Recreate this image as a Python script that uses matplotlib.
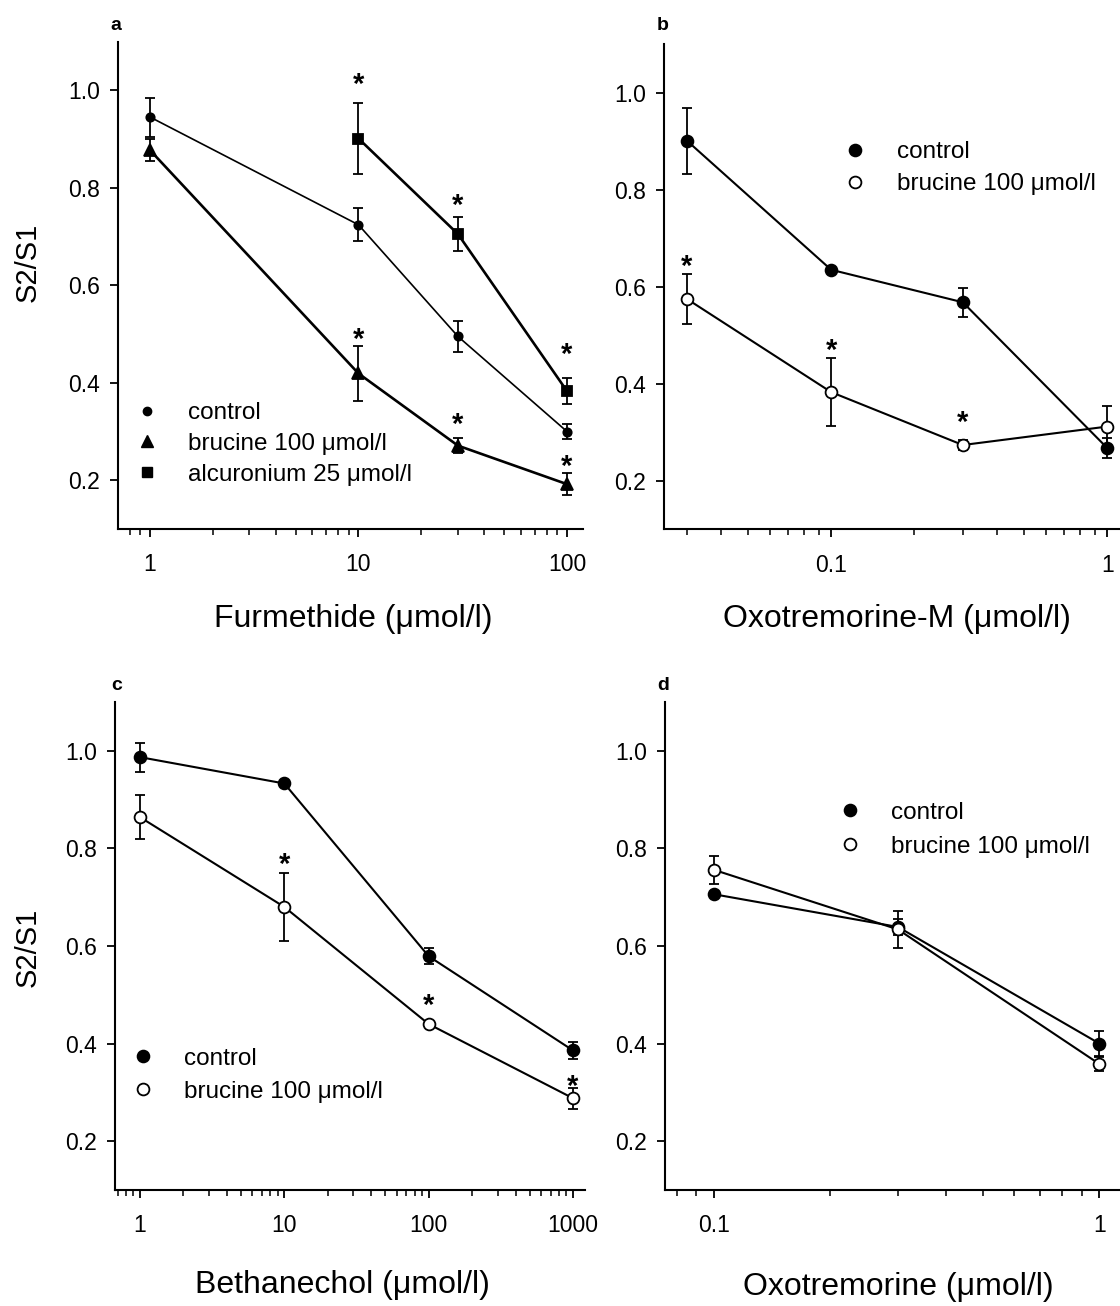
import matplotlib
matplotlib.use('Agg')
import matplotlib.pyplot as plt
from matplotlib.ticker import FixedLocator, FixedFormatter, LogLocator, NullFormatter
from matplotlib.lines import Line2D

plt.rcParams['font.family'] = ['Liberation Sans', 'DejaVu Sans']

# ---------------- data ----------------
# panel a: furmethide
a_x = [1, 10, 30, 100]
a_control = [0.945, 0.724, 0.495, 0.300]
a_control_err = [0.040, 0.034, 0.031, 0.015]
a_brucine = [0.877, 0.419, 0.271, 0.192]
a_brucine_err = [0.022, 0.057, 0.015, 0.022]
a_alc_x = [10, 30, 100]
a_alc = [0.901, 0.705, 0.383]
a_alc_err = [0.072, 0.034, 0.026]
a_sig_x = [10, 30, 100, 10, 30, 100]
a_sig_y = [1.03, 0.78, 0.475, 0.506, 0.332, 0.245]

# panel b: oxotremorine-M
b_x = [0.03, 0.1, 0.3, 1]
b_control = [0.901, 0.635, 0.568, 0.268]
b_control_err = [0.068, 0.0, 0.030, 0.020]
b_brucine = [0.575, 0.383, 0.274, 0.312]
b_brucine_err = [0.052, 0.070, 0.010, 0.042]
b_sig_x = [0.03, 0.1, 0.3]
b_sig_y = [0.66, 0.487, 0.337]

# panel c: bethanechol
c_x = [1, 10, 100, 1000]
c_control = [0.987, 0.933, 0.579, 0.386]
c_control_err = [0.030, 0.0, 0.016, 0.018]
c_brucine = [0.864, 0.680, 0.440, 0.288]
c_brucine_err = [0.045, 0.069, 0.006, 0.022]
c_sig_x = [10, 100, 1000]
c_sig_y = [0.784, 0.495, 0.330]

# panel d: oxotremorine
d_x = [0.1, 0.3, 1]
d_control = [0.706, 0.639, 0.400]
d_control_err = [0.0, 0.017, 0.026]
d_brucine = [0.756, 0.634, 0.358]
d_brucine_err = [0.028, 0.038, 0.015]

y_ticks = [0.2, 0.4, 0.6, 0.8, 1.0]
y_ticklabels = ['0.2', '0.4', '0.6', '0.8', '1.0']

# ---------------- figure ----------------
W, H = 1120, 1306
fig = plt.figure(figsize=(W / 100, H / 100), dpi=100)


def ax_at(l, t, r, b):
    return fig.add_axes([l / W, 1 - b / H, (r - l) / W, (b - t) / H])


axa = ax_at(118, 41.5, 583, 529)
axb = ax_at(664, 44, 1129, 529.5)
axc = ax_at(115, 702, 585, 1190)
axd = ax_at(665, 702, 1130, 1190)

TICK_FS = 16.5
LEG_FS = 17.5
LAB_FS = 23
STAR_FS = 21


def setup(ax, xlim, xt, xtl):
    ax.set_xscale('log')
    ax.set_xlim(*xlim)
    ax.set_ylim(0.1, 1.1)
    ax.xaxis.set_major_locator(FixedLocator(xt))
    ax.xaxis.set_major_formatter(FixedFormatter(xtl))
    ax.xaxis.set_minor_locator(LogLocator(base=10, subs=[2, 3, 4, 5, 6, 7, 8, 9], numticks=50))
    ax.xaxis.set_minor_formatter(NullFormatter())
    ax.yaxis.set_major_locator(FixedLocator(y_ticks))
    ax.yaxis.set_major_formatter(FixedFormatter(y_ticklabels))
    for s in ['top', 'right']:
        ax.spines[s].set_visible(False)
    for s in ['left', 'bottom']:
        ax.spines[s].set_linewidth(1.5)
    ax.tick_params(axis='both', which='major', direction='out', length=6, width=1.3,
                   labelsize=TICK_FS)
    ax.tick_params(axis='x', which='major', pad=11.5)
    ax.tick_params(axis='y', which='major', pad=7)
    ax.tick_params(axis='x', which='minor', direction='out', length=4, width=1.1)
    ax.set_facecolor('none')


def series(ax, x, y, e, marker, ms, mfc, lw):
    ax.errorbar(x, y, yerr=e, fmt='-', color='black', lw=lw, marker=marker,
                ms=ms, mfc=mfc, mec='black', mew=1.3, ecolor='black',
                elinewidth=1.3, capsize=3.6, capthick=1.3, zorder=3)


def stars(ax, xs, ys, fs=STAR_FS):
    for x, y in zip(xs, ys):
        ax.annotate('*', xy=(x, y), xytext=(0, -0.58 * fs), textcoords='offset points',
                    ha='center', va='baseline', fontsize=fs, fontweight='bold')


def legend(ax, handles, labels, left_px, cy_px, spacing):
    ax.legend(handles, labels, loc='center left',
              bbox_to_anchor=(left_px / W, 1 - cy_px / H), bbox_transform=fig.transFigure,
              frameon=False, fontsize=LEG_FS, handlelength=1.0, handletextpad=1.19,
              labelspacing=spacing, borderpad=0, borderaxespad=0, numpoints=1)


HALF = LEG_FS * 1.389 / 2

# panel a
setup(axa, (0.702, 119.4), [1, 10, 100], ['1', '10', '100'])
series(axa, a_x, a_control, a_control_err, 'o', 6, 'black', 1.2)
series(axa, a_x, a_brucine, a_brucine_err, '^', 9, 'black', 1.9)
series(axa, a_alc_x, a_alc, a_alc_err, 's', 7.5, 'black', 1.9)
stars(axa, a_sig_x, a_sig_y)
legend(axa,
       [Line2D([], [], ls='none', marker='o', ms=6, color='black'),
        Line2D([], [], ls='none', marker='^', ms=9, color='black'),
        Line2D([], [], ls='none', marker='s', ms=7.5, color='black')],
       ['control', 'brucine 100 \u03bcmol/l', 'alcuronium 25 \u03bcmol/l'],
       147 - HALF, 444, 0.36)

# panel b
setup(axb, (0.0248, 1.2), [0.1, 1], ['0.1', '1'])
series(axb, b_x, b_control, b_control_err, 'o', 8.5, 'black', 1.5)
series(axb, b_x, b_brucine, b_brucine_err, 'o', 8.5, 'white', 1.5)
stars(axb, b_sig_x, b_sig_y)
two = [Line2D([], [], ls='none', marker='o', ms=8.5, mfc='black', mec='black', mew=1.3),
       Line2D([], [], ls='none', marker='o', ms=8.5, mfc='white', mec='black', mew=1.3)]
two_labels = ['control', 'brucine 100 \u03bcmol/l']
legend(axb, two, two_labels, 855.5 - HALF, 168.2, 0.41)

# panel c
setup(axc, (0.671, 1211), [1, 10, 100, 1000], ['1', '10', '100', '1000'])
series(axc, c_x, c_control, c_control_err, 'o', 8.5, 'black', 1.5)
series(axc, c_x, c_brucine, c_brucine_err, 'o', 8.5, 'white', 1.5)
stars(axc, c_sig_x, c_sig_y)
legend(axc, two, two_labels, 143.3 - HALF, 1075.2, 0.46)

# panel d
setup(axd, (0.0746, 1.2), [0.1, 1], ['0.1', '1'])
series(axd, d_x, d_control, d_control_err, 'o', 8.5, 'black', 1.5)
series(axd, d_x, d_brucine, d_brucine_err, 'o', 8.5, 'white', 1.5)
legend(axd, two, two_labels, 850.3 - HALF, 829.8, 0.48)

# axis titles
fig.text(353 / W, 1 - 619 / H, 'Furmethide (\u03bcmol/l)', ha='center', va='center', fontsize=LAB_FS)
fig.text(897 / W, 1 - 619 / H, 'Oxotremorine-M (\u03bcmol/l)', ha='center', va='center', fontsize=LAB_FS)
fig.text(342 / W, 1 - 1285 / H, 'Bethanechol (\u03bcmol/l)', ha='center', va='center', fontsize=LAB_FS)
fig.text(898 / W, 1 - 1287 / H, 'Oxotremorine (\u03bcmol/l)', ha='center', va='center', fontsize=LAB_FS)
fig.text(28 / W, 1 - 262 / H, 'S2/S1', rotation=90, ha='center', va='center', fontsize=21)
fig.text(28 / W, 1 - 947 / H, 'S2/S1', rotation=90, ha='center', va='center', fontsize=21)

# panel letters
for lbl, x, y in [('a', 116, 30), ('b', 663, 30), ('c', 117, 690), ('d', 663, 690)]:
    fig.text(x / W, 1 - y / H, lbl, ha='center', va='baseline', fontsize=14, fontweight='bold')

fig.savefig('out.png', dpi=100, facecolor='white')
